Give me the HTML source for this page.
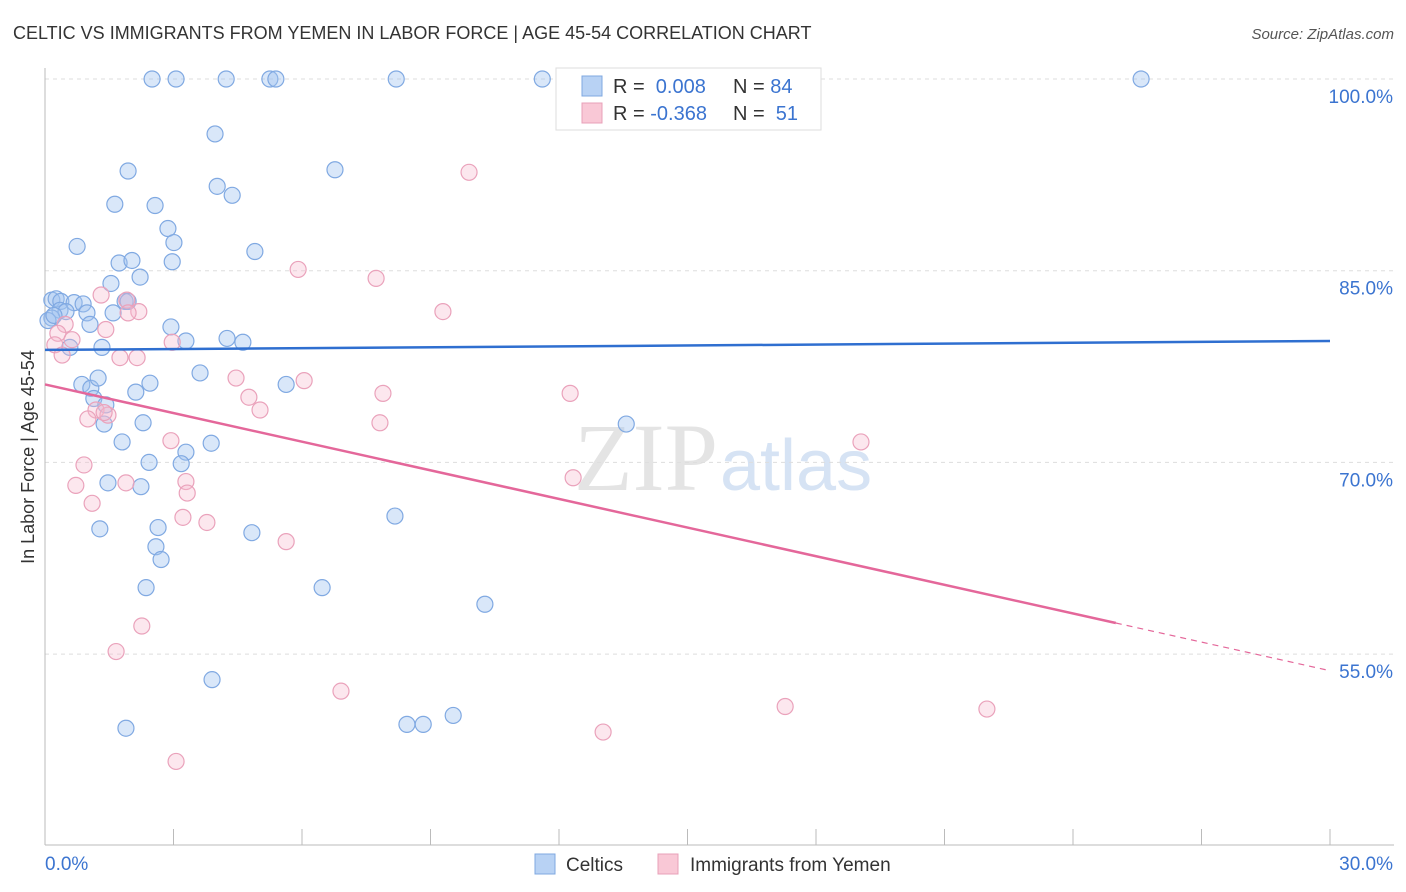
<!DOCTYPE html>
<html><head><meta charset="utf-8"><style>
body{margin:0;background:#fff;font-family:"Liberation Sans",sans-serif}
#wrap{position:relative;width:1406px;height:892px;overflow:hidden}
</style></head><body><div id="wrap">
<svg id="svg" width="1406" height="892" xmlns="http://www.w3.org/2000/svg">
<text x="13" y="39" font-size="18" fill="#333">CELTIC VS IMMIGRANTS FROM YEMEN IN LABOR FORCE | AGE 45-54 CORRELATION CHART</text>
<text x="1394" y="39" font-size="15" fill="#555" font-style="italic" text-anchor="end">Source: ZipAtlas.com</text>
<text x="718" y="490" font-size="96" fill="#e4e4e4" font-family="Liberation Serif,serif" text-anchor="end">ZIP</text>
<text x="720" y="490" font-size="72" fill="#d6e3f4">atlas</text>
<text transform="translate(34,457) rotate(-90)" font-size="18" fill="#333" text-anchor="middle">In Labor Force | Age 45-54</text>
<g id="grid"></g><g id="marks"></g><g id="lines"></g>
<g>
<rect x="556" y="68" width="265" height="62" fill="#fff" stroke="#ddd"/>
<rect x="582" y="76" width="20" height="20" fill="#b8d2f4" stroke="#7fa8e0"/>
<rect x="582" y="103" width="20" height="20" fill="#f9c8d6" stroke="#e8a0b8"/>
<text x="613" y="93" font-size="20" fill="#333">R = <tspan fill="#3b74d0">&#160;0.008</tspan></text>
<text x="733" y="93" font-size="20" fill="#333">N = <tspan fill="#3b74d0">84</tspan></text>
<text x="613" y="120" font-size="20" fill="#333">R = <tspan fill="#3b74d0">-0.368</tspan></text>
<text x="733" y="120" font-size="20" fill="#333">N = <tspan fill="#3b74d0">&#160;51</tspan></text>
</g>
<g>
<rect x="535" y="854" width="20" height="20" fill="#b8d2f4" stroke="#7fa8e0"/>
<text x="566" y="871" font-size="19" fill="#333">Celtics</text>
<rect x="658" y="854" width="20" height="20" fill="#f9c8d6" stroke="#e8a0b8"/>
<text x="690" y="871" font-size="19" fill="#333">Immigrants from Yemen</text>
</g>
</svg></div>
<script>
const blueX=[2.50,3.06,4.23,5.25,5.39,8.20,11.61,25.59,3.97,1.94,6.77,4.02,4.37,1.63,2.57,2.87,3.01,0.75,4.90,1.73,2.03,2.97,2.22,1.54,0.16,0.26,0.37,0.68,0.89,1.87,1.94,0.98,1.59,0.35,0.49,0.16,1.05,2.94,4.25,3.29,4.62,0.58,1.33,3.62,0.86,1.07,1.24,2.45,2.12,1.14,1.42,5.63,2.29,1.38,1.80,3.88,3.29,3.18,2.43,1.47,2.24,1.28,2.64,2.59,2.71,4.83,8.17,13.57,2.36,6.47,10.27,3.90,1.89,8.45,8.83,9.53,0.07,0.21];
const blueY=[100,100,100,100,100,100,100,100,95.7,92.8,92.9,91.6,90.9,90.2,90.1,88.3,87.2,86.9,86.5,85.6,85.8,85.7,84.5,84.0,82.7,82.8,82.6,82.5,82.4,82.6,82.6,81.7,81.7,81.9,81.8,81.3,80.8,80.6,79.7,79.5,79.4,79.0,79.0,77.0,76.1,75.8,76.6,76.2,75.5,75.0,74.5,76.1,73.1,73.0,71.6,71.5,70.8,69.9,70.0,68.4,68.1,64.8,64.9,63.4,62.4,64.5,65.8,73.0,60.2,60.2,58.9,53.0,49.2,49.5,49.5,50.2,81.1,81.5];
const pinkX=[9.90,5.91,7.73,9.29,1.31,1.91,2.19,1.94,1.42,0.47,0.30,0.63,0.23,0.40,1.75,2.15,2.97,4.46,6.05,4.76,5.02,7.89,12.26,1.19,1.47,1.00,1.38,7.82,19.05,2.94,0.91,3.29,3.32,0.72,1.89,1.10,3.22,3.78,5.63,12.33,2.26,1.66,6.91,17.28,21.99,13.03,3.06];
const pinkY=[92.7,85.1,84.4,81.8,83.1,82.7,81.8,81.7,80.4,80.8,80.1,79.6,79.2,78.4,78.2,78.2,79.4,76.6,76.4,75.1,74.1,75.4,75.4,74.1,73.7,73.4,73.9,73.1,71.6,71.7,69.8,68.5,67.6,68.2,68.4,66.8,65.7,65.3,63.8,68.8,57.2,55.2,52.1,50.9,50.7,48.9,46.6];
const blueTrend=[78.8,79.5];
const pinkTrend=[76.1,53.7];
const pinkSolidEnd=25.0;
const yTicks=[100,85,70,55];
const yTickLabels=["100.0%","85.0%","70.0%","55.0%"];
const xTicks=[0,3,6,9,12,15,18,21,24,27,30];
const NS="http://www.w3.org/2000/svg";
const X=v=>45+v*1285/30;
const Y=v=>79+(100-v)*191.7/15;
function mk(t,a,p){const e=document.createElementNS(NS,t);for(const k in a)e.setAttribute(k,a[k]);p.appendChild(e);return e;}
const grid=document.getElementById('grid'),marks=document.getElementById('marks'),lines=document.getElementById('lines');
yTicks.forEach((v,i)=>{
 const l=mk('line',{x1:45,x2:1394,y1:Y(v),y2:Y(v),stroke:'#ddd','stroke-dasharray':'4,4'},grid);
 
 
 const t=mk('text',{x:1393,y:Y(v)+24,'font-size':19,fill:'#3b74d0','text-anchor':'end'},grid);t.textContent=yTickLabels[i];
 
 
});
const ax=mk('line',{x1:45,x2:1394,y1:845,y2:845,stroke:'#bbb'},grid);


const ay=mk('line',{x1:45,x2:45,y1:68,y2:845,stroke:'#bbb'},grid);


xTicks.forEach(v=>{const t=mk('line',{x1:X(v),x2:X(v),y1:829,y2:845,stroke:'#bbb'},grid);
 
 });
let t0=mk('text',{x:45,y:870,'font-size':19,fill:'#3b74d0'},grid);t0.textContent='0.0%';


let t1=mk('text',{x:1393,y:870,'font-size':19,fill:'#3b74d0','text-anchor':'end'},grid);t1.textContent='30.0%';


blueX.forEach((v,i)=>{const c=mk('circle',{cx:X(v),cy:Y(blueY[i]),r:8,fill:'rgba(160,196,240,0.4)',stroke:'#80a9e2','stroke-width':1.2},marks);
 
 });
pinkX.forEach((v,i)=>{const c=mk('circle',{cx:X(v),cy:Y(pinkY[i]),r:8,fill:'rgba(246,186,206,0.35)',stroke:'#eaa2bb','stroke-width':1.2},marks);
 
 });
const bl=mk('line',{x1:X(0),y1:Y(blueTrend[0]),x2:X(30),y2:Y(blueTrend[1]),stroke:'#2f6fd0','stroke-width':2.5},lines);


const py=x=>pinkTrend[0]+(pinkTrend[1]-pinkTrend[0])*x/30;
const pl=mk('line',{x1:X(0),y1:Y(py(0)),x2:X(pinkSolidEnd),y2:Y(py(pinkSolidEnd)),stroke:'#e4679a','stroke-width':2.5},lines);


const pd=mk('line',{x1:X(pinkSolidEnd),y1:Y(py(pinkSolidEnd)),x2:X(30),y2:Y(py(30)),stroke:'#e4679a','stroke-width':1.2,'stroke-dasharray':'6,5'},lines);


</script></body></html>
